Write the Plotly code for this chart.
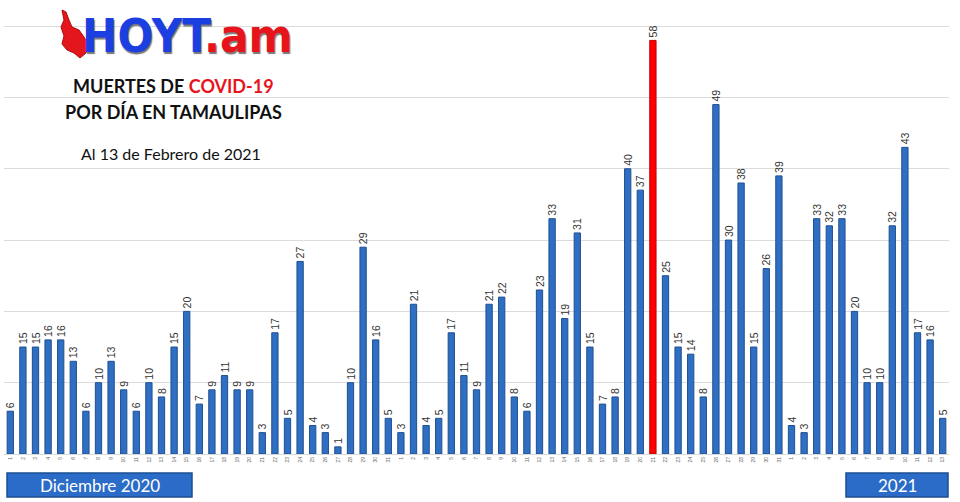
import plotly.graph_objects as go

# ---- data ----
day_labels = (
    [str(d) for d in range(1, 32)]   # diciembre 2020
    + [str(d) for d in range(1, 32)]  # enero 2021
    + [str(d) for d in range(1, 14)]  # febrero 2021
)
months = ["dic"] * 31 + ["ene"] * 31 + ["feb"] * 13
categories = [f"{d}-{m}" for d, m in zip(day_labels, months)]

deaths = [6, 15, 15, 16, 16, 13, 6, 10, 13, 9, 6, 10, 8, 15, 20, 7, 9, 11, 9, 9,
          3, 17, 5, 27, 4, 3, 1, 10, 29, 16, 5, 3, 21, 4, 5, 17, 11, 9, 21, 22,
          8, 6, 23, 33, 19, 31, 15, 7, 8, 40, 37, 58, 25, 15, 14, 8, 49, 30, 38, 15,
          26, 39, 4, 3, 33, 32, 33, 20, 10, 10, 32, 43, 17, 16, 5]

max_val = max(deaths)
BLUE = "#2f6fc3"
BLUE_EDGE = "#1f4f90"
RED = "#ff0000"
colors = [RED if v == max_val else BLUE for v in deaths]
edges = ["#c00000" if v == max_val else BLUE_EDGE for v in deaths]

# ---- layout geometry (pixels) ----
W, H = 960, 502
ML, MR, MT, MB = 4, 11, 19, 48
PW, PH = W - ML - MR, H - MT - MB


def px(x):
    return (x - ML) / PW


def py(y):
    return (H - MB - y) / PH


fig = go.Figure()
fig.add_trace(go.Bar(
    x=categories,
    y=deaths,
    marker=dict(color=colors, line=dict(color=edges, width=1)),
    width=0.5,
    text=[str(v) for v in deaths],
    textposition="outside",
    textangle=-90,
    textfont=dict(family="Liberation Sans, Arial, sans-serif", size=10.5, color="#333333"),
    cliponaxis=False,
    hoverinfo="x+y",
))

shapes = []
annotations = []

# red map silhouette beside logo
map_pts = [(62, 10), (66, 12), (69, 20), (72, 27), (79, 30), (84, 37), (88, 44),
           (86, 53), (80, 58), (74, 53), (67, 50), (62, 44), (64, 36), (61, 27), (64, 20)]
path = "M " + " L ".join(f"{px(a):.5f},{py(b):.5f}" for a, b in map_pts) + " Z"
shapes.append(dict(type="path", xref="paper", yref="paper", path=path,
                   fillcolor="#e3161b", line=dict(color="#b00c10", width=1), layer="above"))

# logo text
annotations.append(dict(
    x=px(187), y=py(35), xref="paper", yref="paper", xanchor="center", yanchor="middle",
    showarrow=False,
    text='<span style="color:#1b3fe0">HOYT</span><span style="color:#e8141b">.am</span>',
    font=dict(family="DejaVu Sans Condensed, Liberation Sans Narrow, sans-serif",
              size=47, weight="bold", shadow="1px 2px 1px #777777"),
))

annotations.append(dict(
    x=px(173), y=py(86), xref="paper", yref="paper", xanchor="center", yanchor="middle",
    showarrow=False,
    text='MUERTES DE <span style="color:#e8141b">COVID-19</span>',
    font=dict(family="Lato, Open Sans, sans-serif", size=18, color="#111111", weight="bold"),
))
annotations.append(dict(
    x=px(173), y=py(112), xref="paper", yref="paper", xanchor="center", yanchor="middle",
    showarrow=False,
    text="POR DÍA EN TAMAULIPAS",
    font=dict(family="Lato, Open Sans, sans-serif", size=18, color="#111111", weight="bold"),
))
annotations.append(dict(
    x=px(171), y=py(153), xref="paper", yref="paper", xanchor="center", yanchor="middle",
    showarrow=False,
    text="Al 13 de Febrero de 2021",
    font=dict(family="Lato, Open Sans, sans-serif", size=16, color="#111111"),
))

# month boxes
for (x0, x1, label) in [(7, 192, "Diciembre 2020"), (846, 948, "2021")]:
    shapes.append(dict(type="rect", xref="paper", yref="paper",
                       x0=px(x0), x1=px(x1), y0=py(497), y1=py(473),
                       fillcolor="#2a6cc7", line=dict(color="#1b4e93", width=1.5)))
    annotations.append(dict(
        x=px((x0 + x1) / 2), y=py(485), xref="paper", yref="paper",
        xanchor="center", yanchor="middle", showarrow=False, text=label,
        font=dict(family="Lato, Open Sans, sans-serif", size=17, color="white"),
    ))

fig.update_layout(
    width=W, height=H,
    margin=dict(l=ML, r=MR, t=MT, b=MB),
    paper_bgcolor="white", plot_bgcolor="white",
    showlegend=False,
    shapes=shapes,
    annotations=annotations,
    bargap=0.5,
    uniformtext=dict(minsize=10, mode="show"),
    xaxis=dict(
        type="category",
        tickmode="array", tickvals=categories, ticktext=day_labels,
        tickangle=-90,
        tickfont=dict(family="Liberation Sans, Arial, sans-serif", size=5, color="#666666"),
        showgrid=False, showline=True, linecolor="#d9d9d9", linewidth=1,
        ticks="", range=[-0.5, len(categories) - 0.5],
    ),
    yaxis=dict(
        range=[0, 61], dtick=10, tick0=0,
        showgrid=True, gridcolor="#dcdcdc", gridwidth=1,
        showticklabels=False, zeroline=False, ticks="",
    ),
)

fig.write_html("out.html", config={"displayModeBar": False},
               post_script="document.body.style.margin='0';")
